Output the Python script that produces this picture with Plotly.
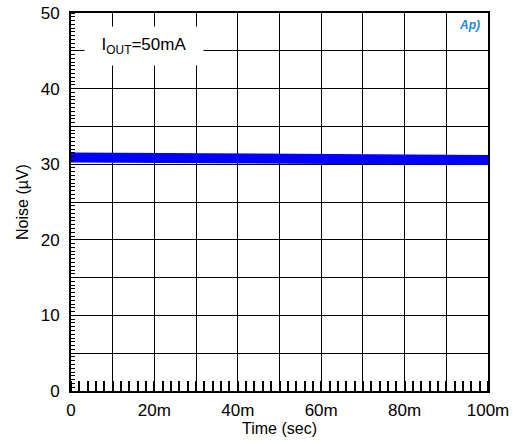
import plotly.graph_objects as go

time_s = [0.0, 0.01, 0.02, 0.03, 0.04, 0.05, 0.06, 0.07, 0.08, 0.09, 0.1]
noise_uv = [30.9, 30.86, 30.82, 30.78, 30.75, 30.72, 30.68, 30.65, 30.62, 30.58, 30.55]

x_tickvals = [0, 0.01, 0.02, 0.03, 0.04, 0.05, 0.06, 0.07, 0.08, 0.09, 0.1]
x_ticktext = ["0", "", "20m", "", "40m", "", "60m", "", "80m", "", "100m"]
y_tickvals = [0, 5, 10, 15, 20, 25, 30, 35, 40, 45, 50]
y_ticktext = ["0", "", "10", "", "20", "", "30", "", "40", "", "50"]

fam = "Liberation Sans, Arial, sans-serif"
font = dict(family=fam, size=17, color="#000000")
tfont = dict(family=fam, size=16, color="#000000")

fig = go.Figure()
fig.add_trace(go.Scatter(x=time_s, y=noise_uv, mode="lines",
                         line=dict(color="#0000FF", width=10),
                         showlegend=False, hoverinfo="skip", cliponaxis=False))

fig.update_layout(
    width=513, height=444,
    margin=dict(l=71, r=25, t=13, b=53),
    paper_bgcolor="white", plot_bgcolor="white",
    font=font,
    xaxis=dict(range=[0, 0.1], tickvals=x_tickvals, ticktext=x_ticktext,
               showgrid=True, gridcolor="#000000", gridwidth=1.2,
               ticks="", ticklabelstandoff=3, ticklabeloverflow="allow",
               showline=True, linecolor="#000000", linewidth=2, mirror=True,
               zeroline=False, tickfont=font, automargin=False,
               minor=dict(dtick=0.002, ticks="inside", ticklen=10, tickcolor="#000000",
                          tickwidth=1.5, showgrid=False),
               title=dict(text="Time (sec)", font=tfont, standoff=0)),
    yaxis=dict(range=[0, 50], tickvals=y_tickvals, ticktext=y_ticktext,
               showgrid=True, gridcolor="#000000", gridwidth=1.2,
               ticks="", ticklabelstandoff=6, ticklabeloverflow="allow",
               showline=True, linecolor="#000000", linewidth=2, mirror=True,
               zeroline=False, tickfont=font, automargin=False,
               minor=dict(dtick=0.5, ticks="inside", ticklen=4, tickcolor="#000000",
                          tickwidth=1, showgrid=False),
               title=dict(text="Noise (µV)", font=tfont, standoff=8)),
    annotations=[
        dict(x=0.0175, y=45.6, xref="x", yref="y", xanchor="center", yanchor="middle",
             text="I<sub>OUT</sub>=50mA", showarrow=False, width=110, height=30,
             font=dict(family=fam, size=17, color="#000000"),
             bgcolor="white", borderpad=4),
        dict(x=0.0985, y=49.6, xref="x", yref="y", xanchor="right", yanchor="top",
             text="<i><b>Ap)</b></i>", showarrow=False,
             font=dict(family=fam, size=12, color="#1E8BD0")),
    ],
)

fig.write_html("out.html", config={"displayModeBar": False},
               post_script="document.body.style.margin='0px';")
